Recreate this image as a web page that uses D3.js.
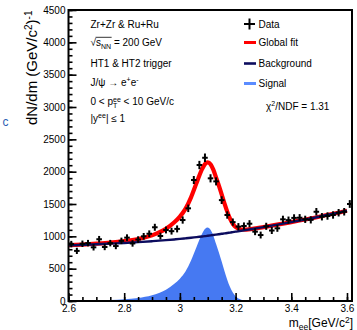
<!DOCTYPE html>
<html>
<head>
<meta charset="utf-8">
<script src="https://cdn.jsdelivr.net/npm/d3@7"></script>
<style>
  body { margin: 0; background: #fff; }
  text { font-family: "Liberation Sans", Arial, sans-serif; white-space: pre; }
</style>
</head>
<body>
<div id="chart"></div>
<script>
// bin centres (GeV/c^2) and counts
const massBins = [2.61, 2.63, 2.65, 2.67, 2.69, 2.71, 2.73, 2.75, 2.77, 2.79,
  2.81, 2.83, 2.85, 2.87, 2.89, 2.91, 2.93, 2.95, 2.97, 2.99,
  3.01, 3.03, 3.05, 3.07, 3.09, 3.11, 3.13, 3.15, 3.17, 3.19,
  3.21, 3.23, 3.25, 3.27, 3.29, 3.31, 3.33, 3.35, 3.37, 3.39,
  3.41, 3.43, 3.45, 3.47, 3.49, 3.51, 3.53, 3.55, 3.57, 3.59, 3.61];
const counts = [880, 775, 885, 895, 830, 955, 835, 895, 850, 930,
  980, 890, 950, 1000, 1040, 1140, 1005, 1098, 1080, 1115,
  1252, 1433, 1871, 2103, 2215, 1897, 1850, 1560, 1330, 1220,
  1150, 1160, 1195, 1072, 1020, 1155, 1090, 1124, 1263, 1250,
  1285, 1288, 1263, 1255, 1380, 1303, 1314, 1330, 1365, 1380, 1500];
const errors = [50, 48, 50, 50, 49, 51, 49, 50, 49, 50,
  51, 50, 51, 52, 52, 54, 52, 53, 53, 54,
  56, 58, 62, 64, 66, 63, 62, 60, 57, 56,
  55, 55, 55, 54, 53, 55, 54, 54, 56, 56,
  56, 56, 56, 56, 58, 57, 57, 57, 58, 58, 60];

// fit curves
const fitMass = [2.60, 2.65, 2.70, 2.75, 2.80, 2.85, 2.90, 2.95, 2.98, 3.00,
  3.02, 3.04, 3.06, 3.08, 3.09, 3.10, 3.11, 3.12, 3.13, 3.14,
  3.15, 3.16, 3.17, 3.18, 3.19, 3.20, 3.22, 3.24, 3.26, 3.30,
  3.40, 3.50, 3.60];
const bkgFit = [860, 868, 877, 887, 898, 911, 925, 941, 952, 960,
  969, 978, 988, 998, 1003, 1009, 1015, 1021, 1027, 1033,
  1039, 1045, 1052, 1058, 1065, 1072, 1086, 1100, 1114, 1143,
  1220, 1303, 1395];
const sigFit = [3, 5, 9, 15, 27, 48, 90, 175, 265, 345,
  455, 625, 840, 1045, 1115, 1135, 1100, 1010, 880, 750,
  610, 465, 330, 215, 130, 72, 20, 5, 1, 0,
  0, 0, 0];

const xTicks = [2.6, 2.8, 3.0, 3.2, 3.4, 3.6];
const yTicks = [0, 500, 1000, 1500, 2000, 2500, 3000, 3500, 4000, 4500];

const width = 357, height = 330;
const plotLeft = 68.5, plotRight = 352, plotTop = 10, plotBottom = 301;

const svg = d3.select('#chart').append('svg')
  .attr('width', width)
  .attr('height', height);

const x = d3.scaleLinear().domain([2.6, 3.618]).range([plotLeft, plotRight]);
const y = d3.scaleLinear().domain([0, 4500]).range([plotBottom, plotTop]);

// stray fragment from the neighbouring panel
svg.append('text').attr('x', 2.5).attr('y', 126)
  .style('font-size', '12px').style('fill', '#2d5fb4').text('c');

// signal area
const sigData = fitMass.map((m, i) => ({ m: m, s: sigFit[i], b: bkgFit[i] }));
svg.append('path')
  .datum(sigData)
  .attr('d', d3.area().x(d => x(d.m)).y0(y(0)).y1(d => y(d.s)).curve(d3.curveMonotoneX))
  .style('fill', '#4679f2');

// global fit = signal + background
svg.append('path')
  .datum(sigData)
  .attr('d', d3.line().x(d => x(d.m)).y(d => y(d.s + d.b)).curve(d3.curveMonotoneX))
  .style('fill', 'none')
  .style('stroke', '#ff0000')
  .style('stroke-width', 4.2);

svg.append('path')
  .datum(sigData)
  .attr('d', d3.line().x(d => x(d.m)).y(d => y(d.b)).curve(d3.curveMonotoneX))
  .style('fill', 'none')
  .style('stroke', '#0c0c5e')
  .style('stroke-width', 2.4);

// data points
const pts = svg.append('g');
massBins.forEach((m, i) => {
  pts.append('line')
    .attr('x1', x(m - 0.01)).attr('x2', x(m + 0.01))
    .attr('y1', y(counts[i])).attr('y2', y(counts[i]));
  pts.append('line')
    .attr('x1', x(m)).attr('x2', x(m))
    .attr('y1', y(counts[i] - errors[i])).attr('y2', y(counts[i] + errors[i]));
});
pts.selectAll('line').style('stroke', '#000').style('stroke-width', 2);

// axes
const yAxis = d3.axisLeft(y).tickValues(yTicks).tickSizeInner(-8).tickSizeOuter(0).tickPadding(3)
  .tickFormat(d3.format('d'));
const yMinor = d3.axisLeft(y).tickValues(d3.range(0, 4501, 100)).tickSize(-4).tickFormat('');
const xAxis = d3.axisBottom(x).tickValues(xTicks).tickSizeInner(-8).tickSizeOuter(0).tickPadding(4)
  .tickFormat(d3.format('~g'));
const xMinor = d3.axisBottom(x).tickValues(d3.range(2.6, 3.62, 0.05)).tickSize(-4).tickFormat('');

[[yMinor, 'translate(' + plotLeft + ',0)'], [yAxis, 'translate(' + plotLeft + ',0)'],
 [xMinor, 'translate(0,' + plotBottom + ')'], [xAxis, 'translate(0,' + plotBottom + ')']].forEach(a => {
  const g = svg.append('g').attr('transform', a[1]).call(a[0]);
  g.select('.domain').remove();
  g.selectAll('line').style('stroke', '#000').style('stroke-width', 1.6);
  g.selectAll('text').style('font-size', '10px').style('fill', '#000')
    .style('font-family', '"Liberation Sans", Arial, sans-serif');
});

svg.append('rect')
  .attr('x', plotLeft).attr('y', plotTop)
  .attr('width', plotRight - plotLeft).attr('height', plotBottom - plotTop)
  .style('fill', 'none').style('stroke', '#000').style('stroke-width', 2);

// text made of pieces, sub/superscripts can be stacked
function richText(g, x0, y0, parts) {
  let cx = x0, lastX = x0, lastW = 0;
  parts.forEach(p => {
    const px = p.stack ? lastX : cx;
    const t = g.append('text').attr('x', px).attr('y', y0 + (p.dy || 0))
      .style('font-size', (p.size || 10) + 'px').text(p.t);
    const w = t.node().getComputedTextLength();
    if (p.stack) cx = lastX + Math.max(lastW, w);
    else { lastX = cx; lastW = w; cx += w; }
  });
  return cx;
}

const info = svg.append('g');
richText(info, 90.5, 27.5, [{ t: 'Zr+Zr & Ru+Ru' }]);
const rx = richText(info, 90.5, 46.2, [{ t: '\u221A' }]);
const sx = richText(info, rx, 46.2, [{ t: 's' }, { t: 'NN', dy: 2.5, size: 7 }]);
info.append('line').attr('x1', rx - 0.5).attr('x2', sx + 0.5)
  .attr('y1', 37.3).attr('y2', 37.3).style('stroke', '#000').style('stroke-width', 0.8);
richText(info, sx, 46.2, [{ t: ' = 200 GeV' }]);
richText(info, 90.5, 66.8, [{ t: 'HT1 & HT2 trigger' }]);
richText(info, 90.5, 85.8, [{ t: 'J/\u03C8 \u2192 e' }, { t: '+', dy: -3.5, size: 7 },
  { t: 'e' }, { t: '-', dy: -3.5, size: 7 }]);
richText(info, 90.5, 105.2, [{ t: '0 < p' }, { t: 'ee', dy: -3.5, size: 7 },
  { t: 'T', dy: 2.8, size: 7, stack: true }, { t: ' < 10 GeV/c' }]);
richText(info, 90.5, 121.8, [{ t: '|y' }, { t: 'ee', dy: -3.5, size: 7 }, { t: '| \u2264 1' }]);

// legend
const leg = svg.append('g');
leg.append('line').attr('x1', 244).attr('x2', 255).attr('y1', 24).attr('y2', 24)
  .style('stroke', '#000').style('stroke-width', 2);
leg.append('line').attr('x1', 249.5).attr('x2', 249.5).attr('y1', 18.5).attr('y2', 29.5)
  .style('stroke', '#000').style('stroke-width', 2);
[['#ff0000', 42.5, 3], ['#0c0c5e', 63.5, 2.6], ['#5b8cff', 83.5, 3]].forEach(l => {
  leg.append('line').attr('x1', 244).attr('x2', 256).attr('y1', l[1]).attr('y2', l[1])
    .style('stroke', l[0]).style('stroke-width', l[2]);
});
richText(leg, 258.5, 27.5, [{ t: 'Data' }]);
richText(leg, 258.5, 46, [{ t: 'Global fit' }]);
richText(leg, 258.5, 66.8, [{ t: 'Background' }]);
richText(leg, 258.5, 86.8, [{ t: 'Signal' }]);
richText(leg, 266, 109.5, [{ t: '\u03C7' }, { t: '2', dy: -3.5, size: 7 }, { t: '/NDF = 1.31' }]);

// axis titles
const yt = svg.append('g').attr('transform', 'translate(37,125) rotate(-90)');
richText(yt, 0, 0, [{ t: 'dN/dm (GeV/c', size: 15 }, { t: '2', dy: -5.5, size: 10 },
  { t: ')', size: 15 }, { t: '-1', dy: -5.5, size: 10 }]);

const xt = svg.append('g');
const xw = richText(xt, 0, 327, [{ t: 'm', size: 12 }, { t: 'ee', dy: 2.5, size: 8.5 },
  { t: '[GeV/c', size: 12 }, { t: '2', dy: -4.5, size: 8.5 }, { t: ']', size: 12 }]);
xt.attr('transform', 'translate(' + (353 - xw) + ',0)');
</script>
</body>
</html>
